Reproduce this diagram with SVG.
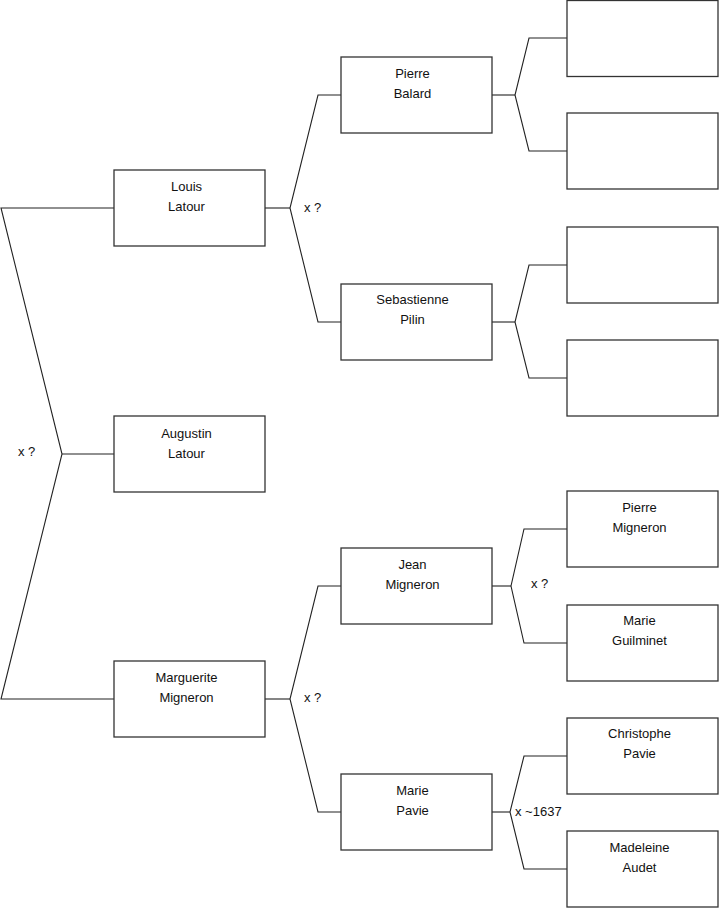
<svg xmlns="http://www.w3.org/2000/svg" width="719" height="908" viewBox="0 0 719 908">
<style>
.box{fill:#fff;stroke:#333;stroke-width:1.3}
.ln{fill:none;stroke:#222;stroke-width:1.1}
text{font-family:"Liberation Sans",Arial,sans-serif;font-size:13px;fill:#111}
.c{text-anchor:middle}
</style>
<rect width="719" height="908" fill="#fff"/>
<g id="connectors">
<polyline class="ln" points="114,208 1,208 62,454 1,699 114,699"/>
<line class="ln" x1="62" y1="454" x2="114" y2="454"/>
<polyline class="ln" points="265,208 290,208"/>
<polyline class="ln" points="341,95 318,95 290,208 318,322 341,322"/>
<polyline class="ln" points="265,699 290,699"/>
<polyline class="ln" points="341,586 318,586 290,699 318,812 341,812"/>
<polyline class="ln" points="492,95 515,95"/>
<polyline class="ln" points="567,38 529,38 515,95 529,151 567,151"/>
<polyline class="ln" points="492,322 515,322"/>
<polyline class="ln" points="567,265 529,265 515,322 529,378 567,378"/>
<polyline class="ln" points="492,586 511,586"/>
<polyline class="ln" points="567,529 524,529 511,586 524,643 567,643"/>
<polyline class="ln" points="492,812 510,812"/>
<polyline class="ln" points="567,756 524,756 510,812 524,869 567,869"/>
<text x="18" y="456">x ?</text>
<text x="304" y="212">x ?</text>
<text x="304" y="702">x ?</text>
<text x="531" y="588">x ?</text>
<text x="515" y="816">x ~1637</text>
</g>
<g id="louis"><rect class="box" x="114" y="170" width="151" height="76"/><text class="c" x="186.5" y="191">Louis</text><text class="c" x="186.5" y="211">Latour</text></g>
<g id="augustin"><rect class="box" x="114" y="416" width="151" height="76"/><text class="c" x="186.5" y="438">Augustin</text><text class="c" x="186.5" y="458">Latour</text></g>
<g id="marguerite"><rect class="box" x="114" y="661" width="151" height="76"/><text class="c" x="186.5" y="682">Marguerite</text><text class="c" x="186.5" y="702">Migneron</text></g>
<g id="pierre-balard"><rect class="box" x="341" y="57" width="151" height="76"/><text class="c" x="412.5" y="78">Pierre</text><text class="c" x="412.5" y="98">Balard</text></g>
<g id="sebastienne"><rect class="box" x="341" y="284" width="151" height="76"/><text class="c" x="412.5" y="304">Sebastienne</text><text class="c" x="412.5" y="324">Pilin</text></g>
<g id="jean"><rect class="box" x="341" y="548" width="151" height="76"/><text class="c" x="412.5" y="569">Jean</text><text class="c" x="412.5" y="589">Migneron</text></g>
<g id="marie-pavie"><rect class="box" x="341" y="774" width="151" height="76"/><text class="c" x="412.5" y="795">Marie</text><text class="c" x="412.5" y="815">Pavie</text></g>
<g id="empty1"><rect class="box" x="567" y="0.5" width="151" height="76"/></g>
<g id="empty2"><rect class="box" x="567" y="113" width="151" height="76"/></g>
<g id="empty3"><rect class="box" x="567" y="227" width="151" height="76"/></g>
<g id="empty4"><rect class="box" x="567" y="340" width="151" height="76"/></g>
<g id="pierre-migneron"><rect class="box" x="567" y="491" width="151" height="76"/><text class="c" x="639.5" y="512">Pierre</text><text class="c" x="639.5" y="532">Migneron</text></g>
<g id="marie-guilminet"><rect class="box" x="567" y="605" width="151" height="76"/><text class="c" x="639.5" y="625">Marie</text><text class="c" x="639.5" y="645">Guilminet</text></g>
<g id="christophe"><rect class="box" x="567" y="718" width="151" height="76"/><text class="c" x="639.5" y="738">Christophe</text><text class="c" x="639.5" y="758">Pavie</text></g>
<g id="madeleine"><rect class="box" x="567" y="831" width="151" height="76"/><text class="c" x="639.5" y="852">Madeleine</text><text class="c" x="639.5" y="872">Audet</text></g>
</svg>
